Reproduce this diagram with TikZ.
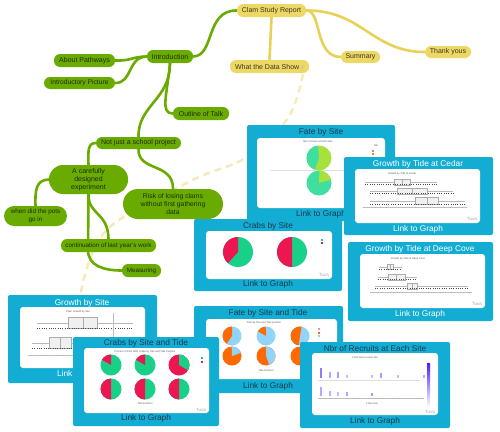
\documentclass[tikz,border=0pt]{standalone}
\usepackage{fontspec}
\setmainfont{Liberation Sans}
\definecolor{mmgreen}{HTML}{6AAB00}
\definecolor{mmgreentext}{HTML}{1E2C05}
\definecolor{mmyellow}{HTML}{EDD865}
\definecolor{mmyellowline}{HTML}{E8D256}
\definecolor{mmyellowtext}{HTML}{3A3520}
\definecolor{dashyellow}{HTML}{F6EBB8}
\definecolor{cardcyan}{HTML}{13ADD3}
\definecolor{cardtext}{HTML}{15394B}
\definecolor{pielime}{HTML}{A7E23C}
\definecolor{pieteal}{HTML}{3FDFA0}
\definecolor{piegreen}{HTML}{19D089}
\definecolor{piered}{HTML}{EC1650}
\definecolor{pieorange}{HTML}{FF6A00}
\definecolor{pieblue}{HTML}{92D3FA}
\definecolor{recpurple}{HTML}{4A1CFF}
\pgfdeclarelayer{bg}
\pgfsetlayers{bg,main}
\tikzset{
  gnode/.style={fill=mmgreen, text=mmgreentext, inner sep=0pt, align=center, font=\fontsize{7}{8.3}\selectfont},
  ynode/.style={fill=mmyellow, text=mmyellowtext, inner sep=0pt, align=center, rounded corners=6pt, font=\fontsize{7}{8.3}\selectfont},
  smalltext/.style={font=\fontsize{6.3}{7.7}\selectfont},
  gline/.style={draw=mmgreen, line width=2.6pt, line cap=round},
  yline/.style={draw=mmyellowline, line width=2.6pt, line cap=round},
  dline/.style={draw=dashyellow, line width=2.5pt, dash pattern=on 7pt off 5pt},
  cardbox/.style={fill=cardcyan, rounded corners=2pt},
  panel/.style={fill=white, rounded corners=3pt},
  cardtitle/.style={font=\fontsize{8.3}{9}\selectfont, text=cardtext, inner sep=0pt},
  wtitle/.style={cardtitle, text=white},
  chartlbl/.style={font=\fontsize{2.6}{3}\selectfont, text=gray!70!black, inner sep=0pt},
  tuvalogo/.style={font=\fontsize{4.5}{5}\selectfont, text=gray!70, inner sep=0pt},
}
% pie: centre, radius, base colour, wedge colour, wedge from / to (screen angles, ccw)
\newcommand{\mypie}[6]{%
  \fill[#3] (#1) circle[radius=#2pt];
  \fill[#4] (#1) -- ++(#5:#2pt) arc[start angle=#5, end angle=#6, radius=#2pt] -- cycle;}
\newcommand{\bxp}[7]{%
  \draw[gray!55, line width=0.35pt] (#3,#1) -- (#7,#1);
  \draw[gray!65, fill=gray!12, line width=0.35pt] (#4,#1-#2) rectangle (#6,#1+#2);
  \draw[gray!65, line width=0.35pt] (#5,#1-#2) -- (#5,#1+#2);
  \draw[gray!60!black, line width=0.5pt, dash pattern=on 0.5pt off 1.8pt] (#3,#1+#2-0.4) -- (#7,#1+#2-0.4);}
\newcommand{\xax}[3]{%
  \draw[gray!50, line width=0.3pt] (#2,#1) -- (#3,#1);
  \draw[gray!60, line width=1.2pt, dash pattern=on 0.3pt off 5.5pt] (#2,#1+0.8) -- (#3,#1+0.8);}
\begin{document}
\begin{tikzpicture}[x=1pt,y=-1pt]
\useasboundingbox (0,0) rectangle (500,431);

% ---------- mind map nodes ----------
\node[ynode, minimum width=69pt, minimum height=13pt] (clam) at (271.5,10.5) {Clam Study Report};
\node[ynode, minimum width=79pt, minimum height=13pt] (data) at (269.5,66.5) {What the Data Show \textcolor{gray!60}{\fontsize{5}{5}\selectfont\itshape//}};
\node[ynode, minimum width=39pt, minimum height=12pt] (summ) at (360.5,57) {Summary};
\node[ynode, minimum width=46pt, minimum height=12pt] (thanks) at (448,52) {Thank yous};

\node[gnode, rounded corners=6pt, minimum width=46pt, minimum height=13pt] (intro) at (170,56.5) {Introduction};
\node[gnode, rounded corners=6pt, minimum width=61pt, minimum height=13pt] (about) at (84.5,60.5) {About Pathways};
\node[gnode, rounded corners=6pt, minimum width=71pt, minimum height=12pt, font=\fontsize{6.7}{8}\selectfont] (intropic) at (79.5,83) {Introductory Picture};
\node[gnode, rounded corners=6pt, minimum width=56pt, minimum height=13pt] (outline) at (201,113.5) {Outline of Talk};
\node[gnode, rounded corners=6pt, minimum width=85pt, minimum height=12pt] (notjust) at (138.5,143) {Not just a school project};
\node[gnode, rounded corners=14pt, minimum width=79pt, minimum height=29pt] (careful) at (88.5,179.5) {A carefully\\designed\\experiment};
\node[gnode, rounded corners=15pt, minimum width=100pt, minimum height=30pt, font=\fontsize{6.8}{8.3}\selectfont] (risk) at (173,204) {Risk of losing clams\\without first gathering\\data};
\node[gnode, smalltext, rounded corners=10pt, minimum width=63pt, minimum height=20pt] (pots) at (35.5,216) {when did the pots\\go in};
\node[gnode, smalltext, rounded corners=6pt, minimum width=95pt, minimum height=13pt] (contin) at (108.5,245.5) {continuation of last year's work};
\node[gnode, smalltext, rounded corners=6pt, minimum width=39pt, minimum height=13pt] (meas) at (141.5,270.5) {Measuring};

\coordinate (dstart) at (303,74);
\coordinate (dend) at (80,296);

% ---------- connectors ----------
\begin{pgfonlayer}{bg}
\fill[white] (0,0) rectangle (500,431);
\draw[dline] plot[smooth, tension=0.6] coordinates {(dstart) (288,118) (247,157) (197,178) (127,215) (100,238) (87,268) (dend)};
\draw[gline] (intro.east) .. controls (215,56) and (205,10) .. (clam.west);
\draw[gline] (about.east) .. controls (132,61) and (130,57) .. (intro.west);
\draw[gline] (intropic.east) .. controls (133,83) and (127,57) .. (intro.west);
\draw[gline] (intro.south) .. controls (167,95) and (160,113.5) .. (outline.west);
\draw[gline] (intro.south) .. controls (170,100) and (138,105) .. (notjust.north);
\draw[gline] (notjust.west) .. controls (88,143) and (88,150) .. (careful.north);
\draw[gline] (notjust.south) .. controls (138,172) and (173,162) .. (risk.north);
\draw[gline] (careful.west) .. controls (36,180) and (35,190) .. (pots.north);
\draw[gline] (careful.south) .. controls (88,215) and (108,212) .. (contin.north);
\draw[gline] (careful.south) -- (88,250) .. controls (88,266) and (104,270.5) .. (meas.west);
\draw[yline] (clam.south) -- (data.north);
\draw[yline] (clam.east) .. controls (322,10) and (314,57) .. (summ.west);
\draw[yline] (clam.east) .. controls (362,10) and (372,52) .. (thanks.west);
\end{pgfonlayer}

% ---------- Fate by Site ----------
\fill[cardbox] (247,125) rectangle (395,221);
\node[cardtitle] (fstitle) at (321,132) {Fate by Site};
\fill[panel] (257,138) rectangle (385,208);
\node[chartlbl] at (318,142) {fate of clams at both sites};
\draw[gray!25, line width=0.3pt] (270,170.5) -- (372,170.5);
\mypie{319,158}{12.5}{pielime}{pieteal}{95}{250}
\mypie{319,183}{12.5}{pieteal}{pielime}{15}{88}
\node[chartlbl] at (376,146) {fate};
\fill[violet!50] (372,149.5) rectangle (374,151.5);
\fill[orange] (372,153) rectangle (374,155);
\node[cardtitle] (fslink) at (321,214) {Link to Graph};

% ---------- Crabs by Site ----------
\fill[cardbox] (194,219) rectangle (342,291);
\node[cardtitle] (cstitle) at (268,226) {Crabs by Site};
\fill[panel] (206,231) rectangle (332,279);
\mypie{238,252}{15}{piegreen}{piered}{90}{228}
\mypie{292,252}{15}{piegreen}{piered}{90}{270}
\fill[piegreen] (321,239) rectangle (323,241);
\fill[piered] (321,242) rectangle (323,244);
\node[tuvalogo] at (324,275) {Tuva};
\node[cardtitle] (cslink) at (268,284.5) {Link to Graph};

% ---------- Growth by Tide at Cedar ----------
\fill[cardbox] (344,157) rectangle (493,235);
\node[wtitle] (cdtitle) at (418,164) {Growth by Tide at Cedar};
\fill[panel] (355,169) rectangle (480,223);
\node[chartlbl] at (402,173.5) {Growth by Tide at Cedar};
\bxp{182}{3}{365}{394}{402}{410}{437}
\bxp{191}{3}{370}{397}{412}{427}{453}
\bxp{201}{3.5}{370}{415}{427}{438}{465}
\xax{207}{363}{467}
\node[tuvalogo] at (472,219) {Tuva};
\node[wtitle] (cdlink) at (418,229) {Link to Graph};

% ---------- Growth by Tide at Deep Cove ----------
\fill[cardbox] (348,242) rectangle (493,321);
\node[wtitle] (dctitle) at (420,249) {Growth by Tide at Deep Cove};
\fill[panel] (360,254) rectangle (485,308);
\node[chartlbl] at (408,258.5) {Growth by Tide at Deep Cove};
\bxp{267}{2.5}{379}{387}{390}{393}{402}
\bxp{277}{3}{378}{388}{396}{405}{417}
\bxp{286}{3}{375}{407}{412}{417}{468}
\xax{292}{370}{472}
\node[tuvalogo] at (477,304) {Tuva};
\node[wtitle] (dclink) at (420,314) {Link to Graph};

% ---------- Growth by Site ----------
\fill[cardbox] (8,295) rectangle (157,383);
\node[wtitle] (gstitle) at (82,303) {Growth by Site};
\fill[panel] (20,307) rectangle (145,368);
\node[chartlbl] at (78,311.5) {Clam Growth by Site};
\bxp{323}{5.5}{37}{68}{83}{97}{133}
\bxp{343}{5.5}{32}{49}{60}{71}{110}
\draw[gray!50, line width=0.3pt] (113,313) -- (113,362);
\xax{355}{28}{135}
\node[wtitle] (gslink) at (82,374) {Link to Graph};

% ---------- Fate by Site and Tide ----------
\fill[cardbox] (194,306) rectangle (343,393);
\node[cardtitle] (fttitle) at (268,313.5) {Fate by Site and Tide};
\fill[panel] (206,319) rectangle (337,379);
\node[chartlbl] at (264,323) {Fate by Site and Tide position};
\mypie{232,336}{9.5}{pieblue}{pieorange}{90}{235}
\mypie{266,336}{9.5}{pieblue}{pieorange}{92}{150}
\mypie{300,336}{9.5}{pieblue}{pieorange}{80}{262}
\mypie{232,356}{9.5}{pieorange}{pieblue}{20}{92}
\mypie{266,356}{9.5}{pieorange}{pieblue}{-70}{90}
\mypie{300,356}{9.5}{pieorange}{pieblue}{40}{90}
\node[chartlbl] at (266,370.5) {Tide Position};
\fill[violet!40] (318,328) rectangle (320,330);
\fill[pieorange] (318,331.5) rectangle (320,333.5);
\fill[pieblue] (318,335) rectangle (320,337);
\node[cardtitle] (ftlink) at (268,386) {Link to Graph};

% ---------- Crabs by Site and Tide ----------
\fill[cardbox] (73,337) rectangle (219,426);
\node[cardtitle] (cttitle) at (146,343) {Crabs by Site and Tide};
\fill[panel] (84,348) rectangle (209,413);
\node[chartlbl] at (145,352) {Percent of Pots With Crabs by Site and Tide Position};
\mypie{111,365}{10.5}{piegreen}{piered}{90}{150}
\mypie{145,365}{10.5}{piegreen}{piered}{90}{150}
\mypie{179,365}{10.5}{piered}{piegreen}{-30}{90}
\mypie{111,389}{10.5}{piegreen}{piered}{90}{270}
\mypie{145,389}{10.5}{piegreen}{piered}{90}{270}
\mypie{179,389}{10.5}{piegreen}{piered}{90}{270}
\node[chartlbl] at (145,403.5) {Tide Position};
\fill[piegreen] (201,357) rectangle (203,359);
\fill[piered] (201,360.5) rectangle (203,362.5);
\node[tuvalogo] at (201,409.5) {Tuva};
\node[cardtitle] (ctlink) at (146,418.5) {Link to Graph};

% ---------- Nbr of Recruits ----------
\fill[cardbox] (300,342) rectangle (450,428);
\node[cardtitle] (nrtitle) at (375,348.5) {Nbr of Recruits at Each Site};
\fill[panel] (312,353) rectangle (438,415);
\node[chartlbl] at (365,357.5) {\# Recruits in each site};
\draw[gray!25, line width=0.3pt] (318,380) -- (420,380);
\foreach \xx/\yy/\cc in {321/368/60,330/372/40,338/372/45,347/375/30,372/375/30,381/373/45,398/375/30,424/375/35}
  \fill[recpurple!\cc] (\xx-1,\yy) rectangle (\xx+1,378);
\foreach \xx/\yy/\cc in {321/387/40,330/391/35,338/392/30,347/392/40,372/393/45}
  \fill[recpurple!\cc] (\xx-1,\yy) rectangle (\xx+1,396);
\xax{398}{318}{424}
\node[chartlbl] at (372,404) {\# Recruits};
\shade[top color=recpurple, bottom color=white] (427,363) rectangle (430,407);
\node[tuvalogo] at (430,411.5) {Tuva};
\node[cardtitle] (nrlink) at (375,421) {Link to Graph};
\end{tikzpicture}
\end{document}
